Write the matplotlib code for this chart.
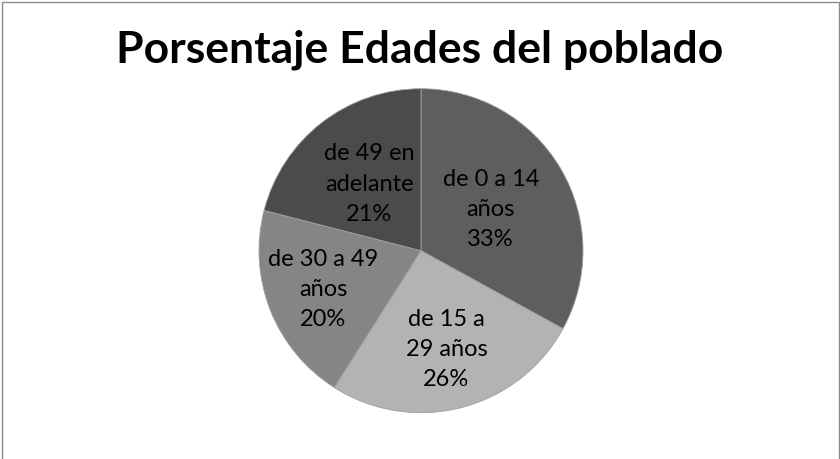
import numpy as np
import matplotlib.pyplot as plt
from matplotlib.patches import Rectangle

# data
grupos = ['de 0 a 14\naños', 'de 15 a\n29 años', 'de 30 a 49\naños', 'de 49 en\nadelante']
porcentajes = [33, 26, 20, 21]
colores = ['#5e5e5e', '#b3b3b3', '#858585', '#4b4b4b']
# how far out (fraction of radius) each label sits
dist_etiqueta = [0.50, 0.63, 0.65, 0.52]

plt.rcParams['font.family'] = ['Lato', 'DejaVu Sans']

fig = plt.figure(figsize=(8.4, 4.59), dpi=100)
fig.patch.set_facecolor('white')

# chart border
W, H = 840, 459
fig.patches.append(Rectangle((2 / W, -0.01), 837 / W, (H - 2) / H + 0.01, transform=fig.transFigure,
                             fill=False, edgecolor='#8c8c8c', linewidth=1.0))

fig.text(0.5, 1 - 50 / H, 'Porsentaje Edades del poblado', ha='center', va='center',
         fontsize=32, fontweight='bold', color='black')

cx, cy, r = 421, 250.7, 162
ax = fig.add_axes([(cx - r) / W, (H - cy - r) / H, 2 * r / W, 2 * r / H])
wedges, _ = ax.pie(porcentajes, colors=colores, startangle=90, counterclock=False,
                   wedgeprops=dict(edgecolor='#a0a0a0', linewidth=0.6))
ax.set_xlim(-1, 1)
ax.set_ylim(-1, 1)
ax.set_aspect('equal')
ax.axis('off')

for w, g, p, d in zip(wedges, grupos, porcentajes, dist_etiqueta):
    ang = np.deg2rad((w.theta1 + w.theta2) / 2)
    ax.text(d * np.cos(ang), d * np.sin(ang), '%s\n%d%%' % (g, p), ha='center', va='center',
            fontsize=17, linespacing=1.55, color='black')

fig.savefig('out.png', dpi=100)
